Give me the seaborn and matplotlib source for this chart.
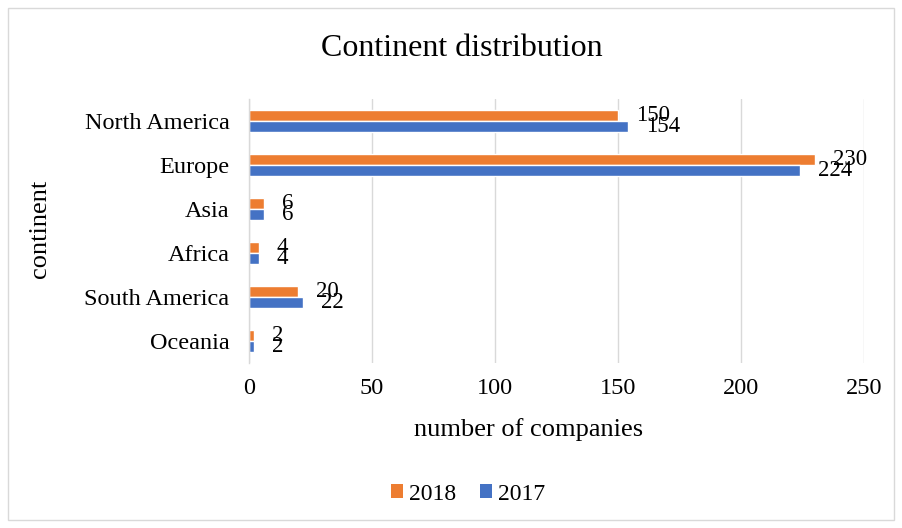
import matplotlib
matplotlib.use("Agg")
import matplotlib.pyplot as plt
import seaborn as sns
import pandas as pd
from matplotlib.patches import Rectangle, Patch

continents = ["North America", "Europe", "Asia", "Africa", "South America", "Oceania"]
years = ["2018", "2017"]
values_2018 = [150, 230, 6, 4, 20, 2]
values_2017 = [154, 224, 6, 4, 22, 2]
x_ticks = [0, 50, 100, 150, 200, 250]

df = pd.DataFrame({
    "continent": continents * 2,
    "year": ["2018"] * len(continents) + ["2017"] * len(continents),
    "companies": values_2018 + values_2017,
})

sns.set_theme(style="white")
plt.rcParams["font.family"] = ["Liberation Serif", "DejaVu Serif"]
plt.rcParams["text.color"] = "#000000"
plt.rcParams["xtick.color"] = "#000000"
plt.rcParams["ytick.color"] = "#000000"

colors = {"2018": "#ED7D31", "2017": "#4472C4"}

fig = plt.figure(figsize=(9.02, 5.28), dpi=100)
ax = fig.add_axes([249 / 902, 1 - 363 / 528, (864 - 249) / 902, (363 - 99) / 528])

sns.barplot(data=df, y="continent", x="companies", hue="year", hue_order=years,
            order=continents, palette=colors, orient="h", width=0.5, ax=ax,
            legend=False, saturation=1)

ax.set_xlim(0, 250)
ax.set_xticks(x_ticks)
ax.set_xticklabels([str(t) for t in x_ticks], fontsize=17.5)
ax.tick_params(axis="y", labelsize=17.5, length=0, pad=14, labelcolor="#000000")
ax.tick_params(axis="x", length=0, pad=11, labelcolor="#000000")
ax.grid(axis="x", color="#D9D9D9", linewidth=1)
ax.set_axisbelow(True)
for s in ["top", "right", "bottom"]:
    ax.spines[s].set_visible(False)
ax.spines["left"].set_color("#D9D9D9")
ax.spines["left"].set_linewidth(1)

ax.set_xlabel("")
ax.set_ylabel("")
fig.text(529 / 902, 1 - 430 / 528, "number of companies", ha="center", va="center", fontsize=19)
fig.text(40 / 902, 1 - 229 / 528, "continent", ha="center", va="center", fontsize=19, rotation=90)

for container in ax.containers:
    ax.bar_label(container, padding=13, fontsize=16.5, color="#000000")

fig.text(462 / 902, 1 - 48 / 528, "Continent distribution", ha="center", va="center", fontsize=23)

handles = [Patch(facecolor=colors[y], edgecolor="none", label=y) for y in years]
fig.legend(handles=handles, loc="center", bbox_to_anchor=(468 / 902, 1 - 494 / 528), ncol=2,
           frameon=False, fontsize=17, handlelength=0.5, handleheight=0.5,
           handletextpad=0.25, columnspacing=1.0)

fig.patches.append(Rectangle((8 / 902, 8 / 528), 886 / 902, 512 / 528, transform=fig.transFigure,
                             fill=False, edgecolor="#D9D9D9", linewidth=1))

fig.savefig("out.png", dpi=100)
